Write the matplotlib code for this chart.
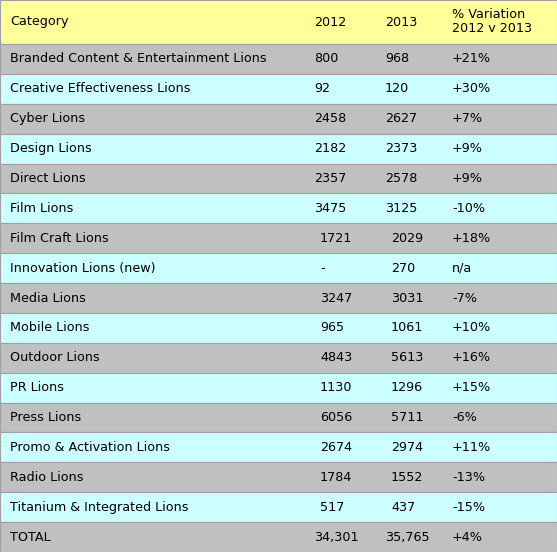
import matplotlib.pyplot as plt
from matplotlib.patches import Rectangle

categories = ["Branded Content & Entertainment Lions", "Creative Effectiveness Lions",
              "Cyber Lions", "Design Lions", "Direct Lions", "Film Lions", "Film Craft Lions",
              "Innovation Lions (new)", "Media Lions", "Mobile Lions", "Outdoor Lions",
              "PR Lions", "Press Lions", "Promo & Activation Lions", "Radio Lions",
              "Titanium & Integrated Lions", "TOTAL"]
v2012 = ["800", "92", "2458", "2182", "2357", "3475", "1721", "-", "3247", "965", "4843",
         "1130", "6056", "2674", "1784", "517", "34,301"]
v2013 = ["968", "120", "2627", "2373", "2578", "3125", "2029", "270", "3031", "1061", "5613",
         "1296", "5711", "2974", "1552", "437", "35,765"]
variation = ["+21%", "+30%", "+7%", "+9%", "+9%", "-10%", "+18%", "n/a", "-7%", "+10%",
             "+16%", "+15%", "-6%", "+11%", "-13%", "-15%", "+4%"]

W, H = 557, 552
fig = plt.figure(figsize=(W / 100, H / 100), dpi=100)
ax = fig.add_axes([0, 0, 1, 1])
ax.set_xlim(0, W)
ax.set_ylim(H, 0)
ax.axis('off')

font = dict(family='DejaVu Sans', fontsize=9.2, color='black', va='center')
head_h = 44
row_h = (H - head_h) / len(categories)

ax.add_patch(Rectangle((0, 0), W, head_h, facecolor='#FFFF99', edgecolor='#A0A0A0', lw=0.8))
ax.text(10, head_h / 2, "Category", **font)
ax.text(314, head_h / 2, "2012", **font)
ax.text(385, head_h / 2, "2013", **font)
ax.text(452, head_h / 2, "% Variation\n2012 v 2013", linespacing=1.1, **font)

for i, cat in enumerate(categories):
    y = head_h + i * row_h
    color = '#C0C0C0' if i % 2 == 0 else '#CCFFFF'
    ax.add_patch(Rectangle((0, y), W, row_h, facecolor=color, edgecolor='#A0A0A0', lw=0.8))
    off = 6 if 6 <= i <= 15 else 0
    yc = y + row_h / 2
    ax.text(10, yc, cat, **font)
    ax.text(314 + off, yc, v2012[i], **font)
    ax.text(385 + off, yc, v2013[i], **font)
    ax.text(452, yc, variation[i], **font)

fig.savefig('out.png', dpi=100)
